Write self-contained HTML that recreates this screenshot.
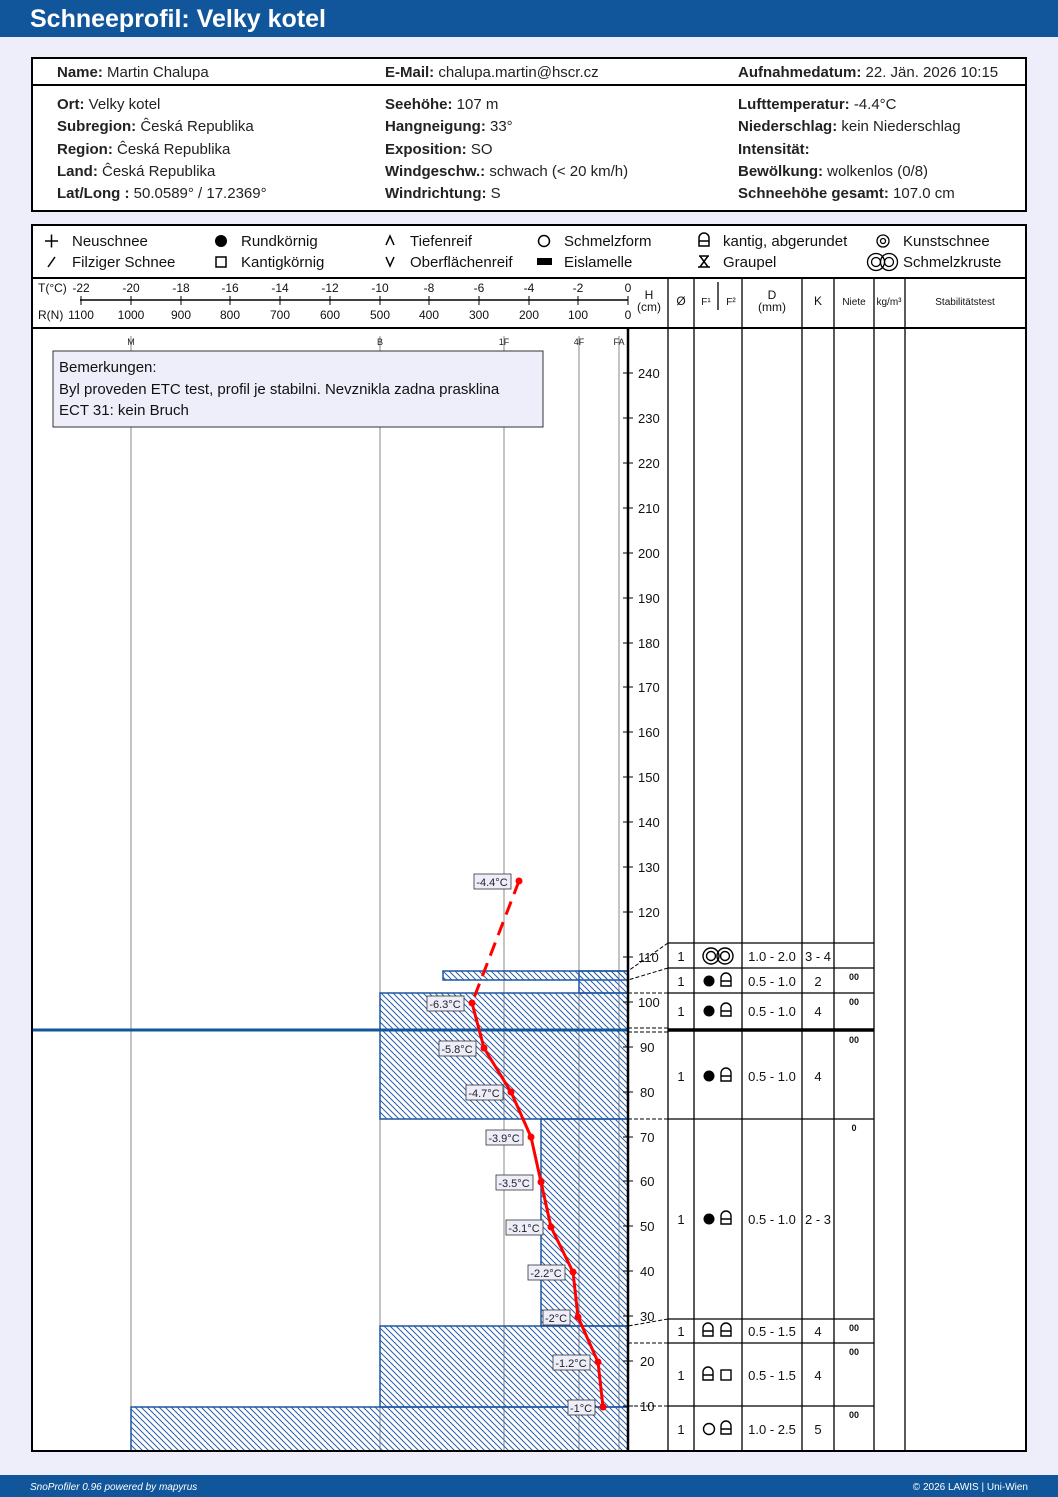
<!DOCTYPE html>
<html><head><meta charset="utf-8"><style>
html,body{margin:0;padding:0;background:#eeeefa;}
svg{display:block;font-family:"Liberation Sans",sans-serif;}
.b{font-weight:bold;}
</style></head><body>
<svg width="1058" height="1497" viewBox="0 0 1058 1497" xmlns="http://www.w3.org/2000/svg">
<defs>
<pattern id="h" width="6" height="6" patternUnits="userSpaceOnUse">
<path d="M-1,-1 L7,7 M-1,5 L1,7 M5,-1 L7,1" stroke="#2a5fa8" stroke-width="1"/>
</pattern>
</defs>
<rect width="1058" height="1497" fill="#eeeefa"/>
<rect width="1058" height="37" fill="#11569b"/>
<text x="30" y="27" fill="#fff" font-size="25" class="b">Schneeprofil: Velky kotel</text>

<!-- info box -->
<rect x="32" y="58" width="994" height="153" fill="#fff" stroke="#000" stroke-width="2"/>
<line x1="32" y1="85" x2="1026" y2="85" stroke="#000" stroke-width="2"/>
<g font-size="15" fill="#222">
<text x="57" y="77"><tspan class="b">Name:</tspan> Martin Chalupa</text>
<text x="385" y="77"><tspan class="b">E-Mail:</tspan> chalupa.martin@hscr.cz</text>
<text x="738" y="77"><tspan class="b">Aufnahmedatum:</tspan> 22. Jän. 2026 10:15</text>
<text x="57" y="109"><tspan class="b">Ort:</tspan> Velky kotel</text>
<text x="57" y="131"><tspan class="b">Subregion:</tspan> Ĉeská Republika</text>
<text x="57" y="154"><tspan class="b">Region:</tspan> Ĉeská Republika</text>
<text x="57" y="176"><tspan class="b">Land:</tspan> Ĉeská Republika</text>
<text x="57" y="198"><tspan class="b">Lat/Long :</tspan> 50.0589° / 17.2369°</text>
<text x="385" y="109"><tspan class="b">Seehöhe:</tspan> 107 m</text>
<text x="385" y="131"><tspan class="b">Hangneigung:</tspan> 33°</text>
<text x="385" y="154"><tspan class="b">Exposition:</tspan> SO</text>
<text x="385" y="176"><tspan class="b">Windgeschw.:</tspan> schwach (&lt; 20 km/h)</text>
<text x="385" y="198"><tspan class="b">Windrichtung:</tspan> S</text>
<text x="738" y="109"><tspan class="b">Lufttemperatur:</tspan> -4.4°C</text>
<text x="738" y="131"><tspan class="b">Niederschlag:</tspan> kein Niederschlag</text>
<text x="738" y="154"><tspan class="b">Intensität:</tspan></text>
<text x="738" y="176"><tspan class="b">Bewölkung:</tspan> wolkenlos (0/8)</text>
<text x="738" y="198"><tspan class="b">Schneehöhe gesamt:</tspan> 107.0 cm</text>
</g>

<!-- main box -->
<rect x="32" y="225" width="994" height="1226" fill="#fff"/>
<!-- legend -->
<g font-size="15" fill="#111">
<path d="M45,241 H58 M51.5,234.5 V247.5" stroke="#000" stroke-width="1.5"/>
<text x="72" y="246">Neuschnee</text>
<path d="M48,267 L55,257" stroke="#000" stroke-width="1.5"/>
<text x="72" y="267">Filziger Schnee</text>
<circle cx="221" cy="241" r="6" fill="#000"/>
<text x="241" y="246">Rundkörnig</text>
<rect x="216" y="257" width="10" height="10" fill="none" stroke="#000" stroke-width="1.5"/>
<text x="241" y="267">Kantigkörnig</text>
<path d="M386,245 L390,236 L394,245" fill="none" stroke="#000" stroke-width="1.5"/>
<text x="410" y="246">Tiefenreif</text>
<path d="M386,257 L390,266 L394,257" fill="none" stroke="#000" stroke-width="1.5"/>
<text x="410" y="267">Oberflächenreif</text>
<circle cx="544" cy="241" r="5.5" fill="none" stroke="#000" stroke-width="1.5"/>
<text x="564" y="246">Schmelzform</text>
<rect x="537" y="258" width="15" height="7" fill="#000"/>
<text x="564" y="267">Eislamelle</text>
<path d="M699,246 V238 A5,5 0 0 1 709,238 V246 Z M699,241 H709" fill="none" stroke="#000" stroke-width="1.5"/>
<text x="723" y="246">kantig, abgerundet</text>
<path d="M698,267 H710 M699,256 H709 M700,256 L708,267 M708,256 L700,267" fill="none" stroke="#000" stroke-width="1.5"/>
<text x="723" y="267">Graupel</text>
<circle cx="883" cy="241" r="6" fill="none" stroke="#000" stroke-width="1.3"/>
<circle cx="883" cy="241" r="2.5" fill="none" stroke="#000" stroke-width="1.3"/>
<text x="903" y="246">Kunstschnee</text>
<circle cx="876" cy="262" r="8.5" fill="none" stroke="#000" stroke-width="1.3"/>
<circle cx="889" cy="262" r="8.5" fill="none" stroke="#000" stroke-width="1.3"/>
<circle cx="876" cy="262" r="4.5" fill="none" stroke="#000" stroke-width="1.3"/>
<circle cx="889" cy="262" r="4.5" fill="none" stroke="#000" stroke-width="1.3"/>
<text x="903" y="267">Schmelzkruste</text>
</g>
<line x1="32" y1="278" x2="1026" y2="278" stroke="#000" stroke-width="2"/>
<line x1="32" y1="328" x2="1026" y2="328" stroke="#000" stroke-width="2"/>

<!-- temperature / hardness axis -->
<line x1="80" y1="300" x2="628" y2="300" stroke="#000" stroke-width="1.5"/>
<g stroke="#000" stroke-width="1">
<path d="M81,296V305 M131,296V305 M181,296V305 M230,296V305 M280,296V305 M330,296V305 M380,296V305 M429,296V305 M479,296V305 M529,296V305 M578,296V305 M628,296V305"/>
</g>
<g font-size="12" fill="#111" text-anchor="middle">
<text x="81" y="292">-22</text><text x="131" y="292">-20</text><text x="181" y="292">-18</text><text x="230" y="292">-16</text><text x="280" y="292">-14</text><text x="330" y="292">-12</text><text x="380" y="292">-10</text><text x="429" y="292">-8</text><text x="479" y="292">-6</text><text x="529" y="292">-4</text><text x="578" y="292">-2</text><text x="628" y="292">0</text>
<text x="81" y="319">1100</text><text x="131" y="319">1000</text><text x="181" y="319">900</text><text x="230" y="319">800</text><text x="280" y="319">700</text><text x="330" y="319">600</text><text x="380" y="319">500</text><text x="429" y="319">400</text><text x="479" y="319">300</text><text x="529" y="319">200</text><text x="578" y="319">100</text><text x="628" y="319">0</text>
<text x="649" y="299">H</text><text x="649" y="311">(cm)</text>
<text x="681" y="305">Ø</text>
<text x="706" y="305" font-size="10">F¹</text><text x="731" y="305" font-size="10">F²</text>
<text x="772" y="299">D</text><text x="772" y="311">(mm)</text>
<text x="818" y="305">K</text>
<text x="854" y="305" font-size="10">Niete</text>
<text x="889" y="305" font-size="10">kg/m³</text>
<text x="965" y="305" font-size="10">Stabilitätstest</text>
</g>
<text x="38" y="292" font-size="12" fill="#111">T(°C)</text>
<text x="38" y="319" font-size="12" fill="#111">R(N)</text>

<!-- header column lines -->
<g stroke="#000" stroke-width="1.3">
<path d="M668,278V1451 M694,278V1451 M742,278V1451 M802,278V1451 M834,278V1451 M874,278V1451 M905,278V1451 M718,282V310"/>
</g>

<!-- hardness grid -->
<g stroke="#888" stroke-width="1">
<path d="M131,336V1451 M380,336V1451 M504,336V1451 M579,336V1451 M619,336V1451"/>
</g>
<g font-size="9" fill="#222" text-anchor="middle">
<text x="131" y="345">M</text><text x="380" y="345">B</text><text x="504" y="345">1F</text><text x="579" y="345">4F</text><text x="619" y="345">FA</text>
</g>

<!-- layers -->
<g fill="url(#h)" stroke="#1f56a0" stroke-width="1.5">
<rect x="443" y="971" width="185" height="9"/>
<rect x="579" y="971" width="49" height="22"/>
<rect x="380" y="993" width="248" height="126"/>
<rect x="541" y="1119" width="87" height="207"/>
<rect x="380" y="1326" width="248" height="81"/>
<rect x="131" y="1407" width="497" height="44"/>
</g>
<line x1="32" y1="1030" x2="628" y2="1030" stroke="#11569b" stroke-width="3"/>

<!-- remarks -->
<rect x="53" y="351" width="490" height="76" fill="#eeeefa" stroke="#333" stroke-width="1"/>
<g font-size="15" fill="#111">
<text x="59" y="372">Bemerkungen:</text>
<text x="59" y="394">Byl proveden ETC test, profil je stabilni. Nevznikla zadna prasklina</text>
<text x="59" y="415">ECT 31: kein Bruch</text>
</g>

<!-- height axis -->
<line x1="628" y1="328" x2="628" y2="1451" stroke="#000" stroke-width="2.5"/>
<g stroke="#000" stroke-width="1">
<path d="M623,1406H633 M623,1361H633 M623,1316H633 M623,1271H633 M623,1226H633 M623,1181H633 M623,1137H633 M623,1092H633 M623,1047H633 M623,1002H633 M623,957H633 M623,912H633 M623,867H633 M623,822H633 M623,777H633 M623,732H633 M623,687H633 M623,643H633 M623,598H633 M623,553H633 M623,508H633 M623,463H633 M623,418H633 M623,373H633"/>
</g>
<g font-size="13" fill="#111">
<text x="640" y="1411">10</text><text x="640" y="1366">20</text><text x="640" y="1321">30</text><text x="640" y="1276">40</text><text x="640" y="1231">50</text><text x="640" y="1186">60</text><text x="640" y="1142">70</text><text x="640" y="1097">80</text><text x="640" y="1052">90</text><text x="638" y="1007">100</text><text x="638" y="962">110</text><text x="638" y="917">120</text><text x="638" y="872">130</text><text x="638" y="827">140</text><text x="638" y="782">150</text><text x="638" y="737">160</text><text x="638" y="692">170</text><text x="638" y="648">180</text><text x="638" y="603">190</text><text x="638" y="558">200</text><text x="638" y="513">210</text><text x="638" y="468">220</text><text x="638" y="423">230</text><text x="638" y="378">240</text>
</g>

<!-- table rows -->
<g stroke="#000" stroke-width="1.3">
<path d="M668,943H874 M668,968H874 M668,993H874 M668,1119H874 M668,1319H874 M668,1343H874 M668,1406H874"/>
</g>
<line x1="668" y1="1030" x2="874" y2="1030" stroke="#000" stroke-width="3.5"/>
<g stroke="#000" stroke-width="1" stroke-dasharray="4,2" fill="none">
<path d="M668,943L628,971 M668,968L628,980 M628,993H668 M628,1028H668 M628,1032H668 M628,1119H668 M668,1319L628,1326 M628,1343H668 M628,1406H668"/>
</g>
<g font-size="13" fill="#111" text-anchor="middle">
<text x="681" y="961">1</text><text x="772" y="961">1.0 - 2.0</text><text x="818" y="961">3 - 4</text>
<text x="681" y="986">1</text><text x="772" y="986">0.5 - 1.0</text><text x="818" y="986">2</text>
<text x="681" y="1016">1</text><text x="772" y="1016">0.5 - 1.0</text><text x="818" y="1016">4</text>
<text x="681" y="1081">1</text><text x="772" y="1081">0.5 - 1.0</text><text x="818" y="1081">4</text>
<text x="681" y="1224">1</text><text x="772" y="1224">0.5 - 1.0</text><text x="818" y="1224">2 - 3</text>
<text x="681" y="1336">1</text><text x="772" y="1336">0.5 - 1.5</text><text x="818" y="1336">4</text>
<text x="681" y="1380">1</text><text x="772" y="1380">0.5 - 1.5</text><text x="818" y="1380">4</text>
<text x="681" y="1434">1</text><text x="772" y="1434">1.0 - 2.5</text><text x="818" y="1434">5</text>
</g>
<g font-size="9" fill="#111" text-anchor="middle" class="b">
<text x="854" y="980">00</text><text x="854" y="1005">00</text><text x="854" y="1043">00</text><text x="854" y="1131">0</text><text x="854" y="1331">00</text><text x="854" y="1355">00</text><text x="854" y="1418">00</text>
</g>
<!-- grain symbols -->
<g fill="none" stroke="#000" stroke-width="1.4">
<circle cx="711" cy="956" r="8"/><circle cx="725" cy="956" r="8"/><circle cx="711" cy="956" r="4.5"/><circle cx="725" cy="956" r="4.5"/>
<path id="ka" d="M721,986V978A5,5 0 0 1 731,978V986Z M721,981H731"/>
<path d="M721,1016V1008A5,5 0 0 1 731,1008V1016Z M721,1011H731"/>
<path d="M721,1081V1073A5,5 0 0 1 731,1073V1081Z M721,1076H731"/>
<path d="M721,1224V1216A5,5 0 0 1 731,1216V1224Z M721,1219H731"/>
<path d="M703,1336V1328A5,5 0 0 1 713,1328V1336Z M703,1331H713"/>
<path d="M721,1336V1328A5,5 0 0 1 731,1328V1336Z M721,1331H731"/>
<path d="M703,1380V1372A5,5 0 0 1 713,1372V1380Z M703,1375H713"/>
<rect x="721" y="1370" width="10" height="10"/>
<circle cx="709" cy="1429" r="5.5"/>
<path d="M721,1434V1426A5,5 0 0 1 731,1426V1434Z M721,1429H731"/>
</g>
<g fill="#000">
<circle cx="709" cy="981" r="5.5"/><circle cx="709" cy="1011" r="5.5"/><circle cx="709" cy="1076" r="5.5"/><circle cx="709" cy="1219" r="5.5"/>
</g>

<!-- temperature profile -->
<line x1="519" y1="881" x2="472" y2="1003" stroke="#f00" stroke-width="3" stroke-dasharray="14,8"/>
<polyline points="472,1003 484,1048 511,1092 531,1137 541,1182 551,1227 573,1272 578,1317 598,1362 603,1407" fill="none" stroke="#f00" stroke-width="3"/>
<g fill="#f00">
<circle cx="519" cy="881" r="3.5"/><circle cx="472" cy="1003" r="3.5"/><circle cx="484" cy="1048" r="3.5"/><circle cx="511" cy="1092" r="3.5"/><circle cx="531" cy="1137" r="3.5"/><circle cx="541" cy="1182" r="3.5"/><circle cx="551" cy="1227" r="3.5"/><circle cx="573" cy="1272" r="3.5"/><circle cx="578" cy="1317" r="3.5"/><circle cx="598" cy="1362" r="3.5"/><circle cx="603" cy="1407" r="3.5"/>
</g>
<g fill="#eeeefa" stroke="#333" stroke-width="0.8">
<rect x="474" y="874" width="37" height="15"/>
<rect x="427" y="996" width="37" height="15"/>
<rect x="439" y="1041" width="37" height="15"/>
<rect x="466" y="1085" width="37" height="15"/>
<rect x="486" y="1130" width="37" height="15"/>
<rect x="496" y="1175" width="37" height="15"/>
<rect x="506" y="1220" width="37" height="15"/>
<rect x="528" y="1265" width="37" height="15"/>
<rect x="543" y="1310" width="27" height="15"/>
<rect x="553" y="1355" width="37" height="15"/>
<rect x="568" y="1400" width="27" height="15"/>
</g>
<g font-size="11" fill="#222" text-anchor="middle">
<text x="492" y="886">-4.4°C</text><text x="445" y="1008">-6.3°C</text><text x="457" y="1053">-5.8°C</text><text x="484" y="1097">-4.7°C</text><text x="504" y="1142">-3.9°C</text><text x="514" y="1187">-3.5°C</text><text x="524" y="1232">-3.1°C</text><text x="546" y="1277">-2.2°C</text><text x="556" y="1322">-2°C</text><text x="571" y="1367">-1.2°C</text><text x="581" y="1412">-1°C</text>
</g>

<rect x="32" y="225" width="994" height="1226" fill="none" stroke="#000" stroke-width="2"/>

<!-- footer -->
<rect x="0" y="1475" width="1058" height="22" fill="#11569b"/>
<text x="30" y="1490" font-size="10" fill="#fff" font-style="italic">SnoProfiler 0.96 powered by mapyrus</text>
<text x="1028" y="1490" font-size="10" fill="#fff" text-anchor="end">© 2026 LAWIS | Uni-Wien</text>
</svg>
</body></html>
